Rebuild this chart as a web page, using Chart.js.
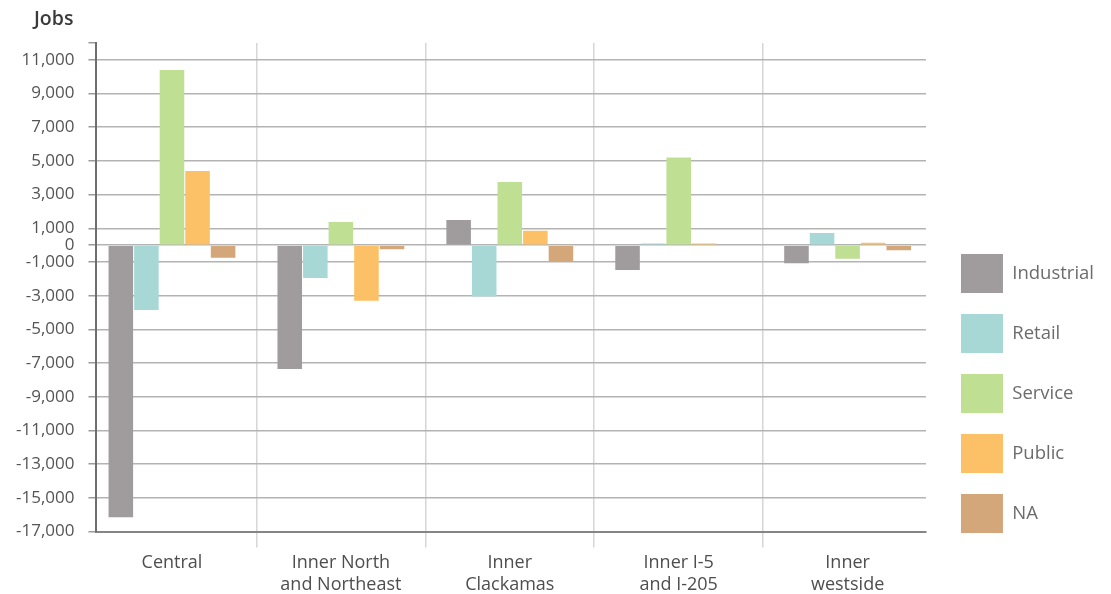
<!DOCTYPE html>
<html>
<head>
<meta charset="utf-8">
<script src="https://cdn.jsdelivr.net/npm/chart.js@4.4.1/dist/chart.umd.min.js"></script>
<style>
  html, body { margin: 0; padding: 0; background: #fff; }
  #wrap { position: relative; width: 1111px; height: 594px; }
  #yTitle { position: absolute; left: 34px; top: 4px; font: 600 19.5px "Open Sans", sans-serif; color: #3a3a3a; }
</style>
</head>
<body>
<div id="wrap">
  <canvas id="jobsChart" width="1111" height="594"></canvas>
  <div id="yTitle">Jobs</div>
</div>
<script>
// Job change by district and sector
const districts = [
    ['Central'],
    ['Inner North', 'and Northeast'],
    ['Inner', 'Clackamas'],
    ['Inner I-5', 'and I-205'],
    ['Inner', 'westside']
];
const sectorNames = ['Industrial', 'Retail', 'Service', 'Public', 'NA'];
const sectorColors = ['#a09c9d', '#a8d8d5', '#bfdf93', '#fcc166', '#d4a77b'];

const industrial = [-16150, -7350, 1500, -1480, -1080];
const retail = [-3850, -1950, -3050, 100, 720];
const service = [10400, 1370, 3750, 5200, -800];
const publicJobs = [4400, -3300, 850, 100, 150];
const na = [-750, -240, -980, 0, -300];

const yTicks = [12000, 11000, 9000, 7000, 5000, 3000, 1000, 0, -1000, -3000, -5000,
    -7000, -9000, -11000, -13000, -15000, -17000];

const seriesValues = [industrial, retail, service, publicJobs, na];

const ctx = document.getElementById('jobsChart').getContext('2d');
new Chart(ctx, {
    type: 'bar',
    data: {
        labels: districts,
        datasets: sectorNames.map((name, i) => ({
            label: name,
            data: seriesValues[i],
            backgroundColor: sectorColors[i],
            borderWidth: 0,
            barPercentage: 0.96,
            categoryPercentage: 0.757
        }))
    },
    options: {
        responsive: false,
        animation: false,
        layout: {
            padding: { top: 43, right: 7, left: 2, bottom: -5.5 }
        },
        scales: {
            x: {
                // the first band starts a little left of the y axis and the last one is cut at the right edge
                afterBuildTicks: (axis) => {
                    axis._startValue = -0.447;
                    axis._valueRange = 4.911;
                },
                grid: {
                    offset: true,
                    color: (c) => c.tick ? '#d6d6d6' : 'rgba(0,0,0,0)',
                    lineWidth: 1.5,
                    tickLength: 16
                },
                border: { color: '#858585', width: 2 },
                ticks: {
                    color: '#4e4e4e',
                    padding: 4,
                    font: { family: '"Open Sans", sans-serif', size: 18, lineHeight: 1.22 }
                }
            },
            y: {
                min: -17000,
                max: 12000,
                afterBuildTicks: (axis) => {
                    axis.ticks = yTicks.map(v => ({ value: v }));
                },
                grid: {
                    color: (c) => c.tick && c.tick.value === 12000 ? 'rgba(0,0,0,0)' : '#b3b3b3',
                    tickColor: '#9a9a9a',
                    lineWidth: 1.5,
                    tickLength: 8
                },
                border: { color: '#6e6e6e', width: 2 },
                ticks: {
                    color: '#555',
                    padding: 14,
                    font: { family: '"Open Sans", sans-serif', size: 17 },
                    callback: (v) => v === 12000 ? '' : v.toLocaleString('en-US')
                }
            },
            // empty right-hand axis keeps a gap between the plot and the legend
            yGap: {
                type: 'linear',
                position: 'right',
                display: true,
                grid: { display: false },
                border: { display: false },
                ticks: { display: false },
                afterFit: (axis) => { axis.width = 14; }
            }
        },
        plugins: {
            legend: {
                position: 'right',
                align: 'start',
                title: {
                    display: true,
                    text: '',
                    font: { size: 12 },
                    padding: { top: 175.6, bottom: 0 }
                },
                labels: {
                    boxWidth: 42,
                    boxHeight: 39,
                    padding: 21,
                    color: '#6c6c6c',
                    font: { family: '"Open Sans", sans-serif', size: 18.5 }
                }
            },
            tooltip: { enabled: false }
        }
    }
});
</script>
</body>
</html>
